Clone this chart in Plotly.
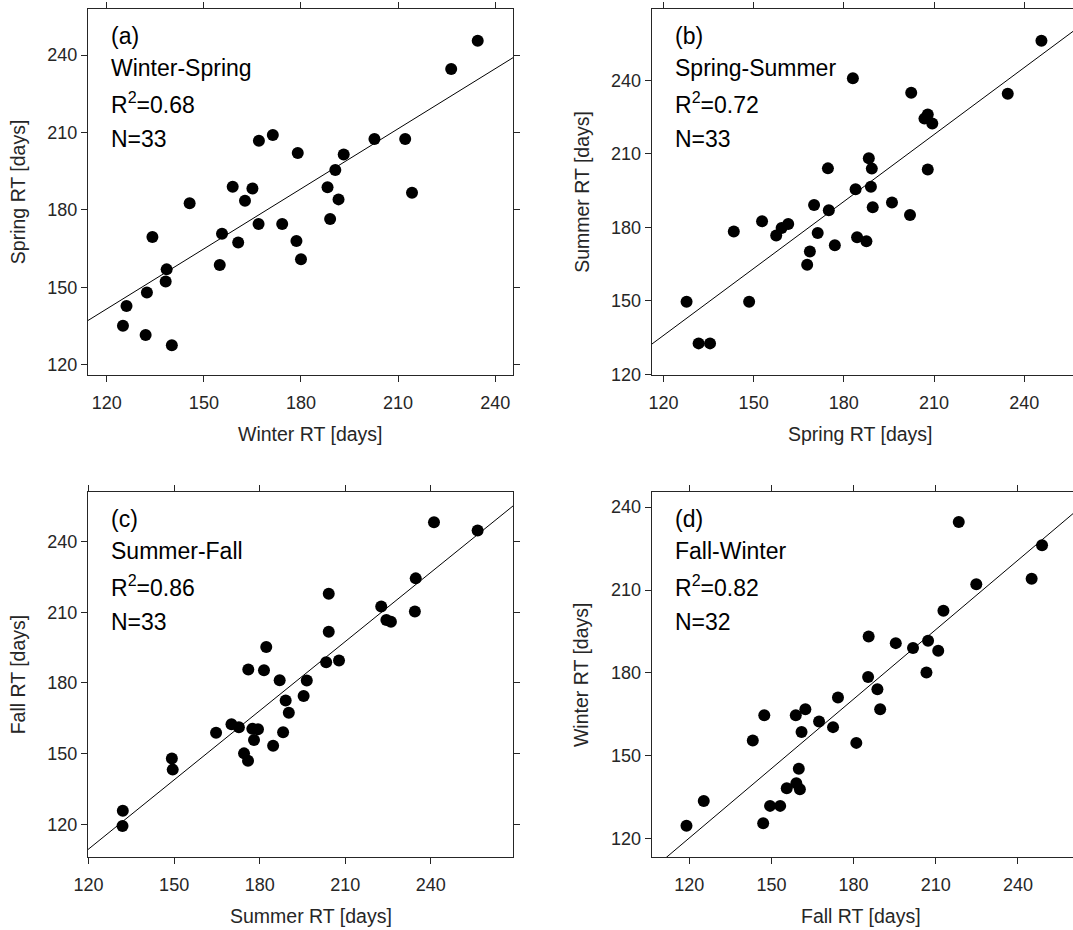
import plotly.graph_objects as go

W, H = 1073, 930

# ---------------- data ----------------
# (a) Winter-Spring
a_x = [234.6, 226.4, 202.7, 212.2, 171.3, 167.0, 179.0, 193.2, 190.6, 188.2, 191.6,
       214.3, 189.0, 158.9, 165.0, 162.7, 145.6, 166.9, 174.2, 155.6, 160.6, 178.6,
       180.0, 134.1, 138.5, 138.2, 154.9, 132.4, 126.1, 125.0, 132.0, 140.1]
a_y = [245.5, 234.6, 207.5, 207.5, 209.0, 206.8, 202.1, 201.5, 195.5, 188.8, 184.1,
       186.7, 176.5, 189.0, 188.3, 183.6, 182.6, 174.6, 174.6, 170.8, 167.4, 168.0,
       160.9, 169.5, 157.0, 152.3, 158.7, 148.0, 142.8, 135.2, 131.6, 127.6]
# (b) Spring-Summer
b_x = [245.7, 183.0, 202.4, 234.5, 207.9, 206.8, 209.4, 188.3, 189.3, 174.7, 207.9,
       183.9, 189.0, 196.0, 170.1, 175.0, 189.6, 202.0, 152.8, 143.4, 161.5, 159.3,
       157.5, 171.3, 184.4, 187.5, 177.0, 168.7, 167.8, 127.7, 148.5, 131.7, 135.5]
b_y = [256.2, 240.9, 235.0, 234.5, 226.1, 224.4, 222.4, 208.2, 204.0, 204.1, 203.6,
       195.6, 196.6, 190.2, 189.2, 187.0, 188.2, 185.1, 182.5, 178.3, 181.4, 179.8,
       176.7, 177.7, 176.0, 174.4, 172.7, 170.2, 164.8, 149.7, 149.7, 132.7, 132.7]
# (c) Summer-Fall
c_x = [241.1, 256.4, 234.7, 204.2, 222.6, 234.4, 224.4, 226.0, 204.2, 182.3, 203.3,
       207.8, 176.0, 181.5, 187.0, 196.5, 195.4, 189.1, 190.2, 170.1, 172.7, 164.7,
       177.4, 179.4, 178.0, 188.2, 184.7, 174.5, 175.9, 149.2, 149.5, 132.0, 131.9]
c_y = [248.2, 244.7, 224.4, 217.9, 212.5, 210.3, 206.7, 206.0, 201.7, 195.3, 188.8,
       189.5, 185.7, 185.4, 181.1, 181.0, 174.5, 172.5, 167.3, 162.5, 161.2, 158.9,
       160.5, 160.3, 155.8, 159.1, 153.3, 150.1, 147.0, 147.9, 143.2, 125.7, 119.3]
# (d) Fall-Winter
d_x = [218.4, 248.8, 245.0, 224.8, 212.8, 185.5, 195.4, 201.7, 207.2, 210.9, 206.6,
       185.3, 188.7, 189.7, 174.3, 162.4, 158.9, 147.4, 167.4, 172.5, 161.0, 143.2,
       181.0, 160.0, 159.1, 160.4, 155.6, 149.5, 153.2, 125.3, 147.0, 119.0]
d_y = [234.6, 226.2, 214.1, 212.1, 202.5, 193.2, 190.8, 189.0, 191.7, 188.0, 180.2,
       178.5, 174.1, 166.9, 171.1, 166.9, 164.7, 164.7, 162.4, 160.4, 158.6, 155.6,
       154.7, 145.3, 140.1, 137.9, 138.3, 131.9, 131.9, 133.7, 125.6, 124.7]

fit_slope = [0.775, 0.911, 0.979, 0.838]
fit_intercept = [48.7, 26.6, -8.0, 19.7]

panel_tags = ["(a)", "(b)", "(c)", "(d)"]
panel_names = ["Winter-Spring", "Spring-Summer", "Summer-Fall", "Fall-Winter"]
r2_values = ["0.68", "0.72", "0.86", "0.82"]
n_values = [33, 33, 33, 32]
x_titles = ["Winter RT [days]", "Spring RT [days]", "Summer RT [days]", "Fall RT [days]"]
y_titles = ["Spring RT [days]", "Summer RT [days]", "Fall RT [days]", "Winter RT [days]"]
tick_vals = [120, 150, 180, 210, 240]

xs = [a_x, b_x, c_x, d_x]
ys = [a_y, b_y, c_y, d_y]

# ---------------- layout geometry (pixels) ----------------
# left, right, top, bottom of each plot area
boxes = [(88, 513, 9.3, 375), (651.7, 1073, 9.3, 375),
         (88, 513, 491.7, 857), (651.7, 1073, 491.7, 857)]
x_ranges = [[114.2, 245.5], [116.1, 256.2], [119.8, 268.8], [106.3, 260.1]]
y_ranges = [[116.1, 257.7], [119.8, 269.0], [106.1, 261.2], [113.4, 245.6]]

AX = "#262626"
FONT = "Liberation Sans, Arial, sans-serif"

fig = go.Figure()
annotations = []
layout_axes = {}

for i in range(4):
    L, R, T, B = boxes[i]
    xa = "x" if i == 0 else f"x{i+1}"
    ya = "y" if i == 0 else f"y{i+1}"
    xkey = "xaxis" if i == 0 else f"xaxis{i+1}"
    ykey = "yaxis" if i == 0 else f"yaxis{i+1}"
    x0, x1 = x_ranges[i]
    fig.add_trace(go.Scatter(
        x=[x0, x1], y=[fit_slope[i] * x0 + fit_intercept[i], fit_slope[i] * x1 + fit_intercept[i]],
        mode="lines", line=dict(color="black", width=1), xaxis=xa, yaxis=ya,
        showlegend=False, hoverinfo="skip"))
    fig.add_trace(go.Scatter(
        x=xs[i], y=ys[i], mode="markers",
        marker=dict(color="black", size=12, line=dict(width=0)),
        xaxis=xa, yaxis=ya, showlegend=False))
    right_col = i in (1, 3)
    common = dict(showline=True, linecolor=AX, linewidth=1.3, ticks="outside", ticklen=6,
                  tickwidth=1.3, tickcolor=AX, tickvals=tick_vals,
                  tickfont=dict(family=FONT, size=18, color=AX),
                  showgrid=False, zeroline=False, automargin=False)
    layout_axes[xkey] = dict(common, domain=[L / W, R / W], range=x_ranges[i],
                             anchor=ya, mirror="ticks", ticklabelstandoff=5)
    layout_axes[ykey] = dict(common, domain=[1 - B / H, 1 - T / H], range=y_ranges[i],
                             anchor=xa, mirror=(False if right_col else "ticks"))

    # in-panel text
    lines = [panel_tags[i], panel_names[i], f"R<sup>2</sup>={r2_values[i]}", f"N={n_values[i]}"]
    offs = [27, 59, 94, 130]
    for t, o in zip(lines, offs):
        annotations.append(dict(text=t, x=(L + 21) / W, y=1 - (T + o) / H, xref="paper",
                                yref="paper", xanchor="left", yanchor="middle",
                                showarrow=False, font=dict(family=FONT, size=23, color="black")))
    # axis titles
    xc = (L + min(R, 1070)) / 2 + (10 if not right_col else 0)
    annotations.append(dict(text=x_titles[i], x=xc / W, y=1 - (B + 59) / H, xref="paper",
                            yref="paper", xanchor="center", yanchor="middle", showarrow=False,
                            font=dict(family=FONT, size=19.5, color=AX)))
    annotations.append(dict(text=y_titles[i], x=(L - 70) / W, y=1 - ((T + B) / 2) / H,
                            xref="paper", yref="paper", xanchor="center", yanchor="middle",
                            textangle=-90, showarrow=False,
                            font=dict(family=FONT, size=19.5, color=AX)))

fig.update_layout(width=W, height=H, autosize=False,
                  margin=dict(l=0, r=0, t=0, b=0, pad=0, autoexpand=False),
                  paper_bgcolor="white", plot_bgcolor="white",
                  annotations=annotations, **layout_axes)

fig.write_html("out.html", config={"displayModeBar": False},
               post_script="document.body.style.margin='0';document.body.style.overflow='hidden';")
